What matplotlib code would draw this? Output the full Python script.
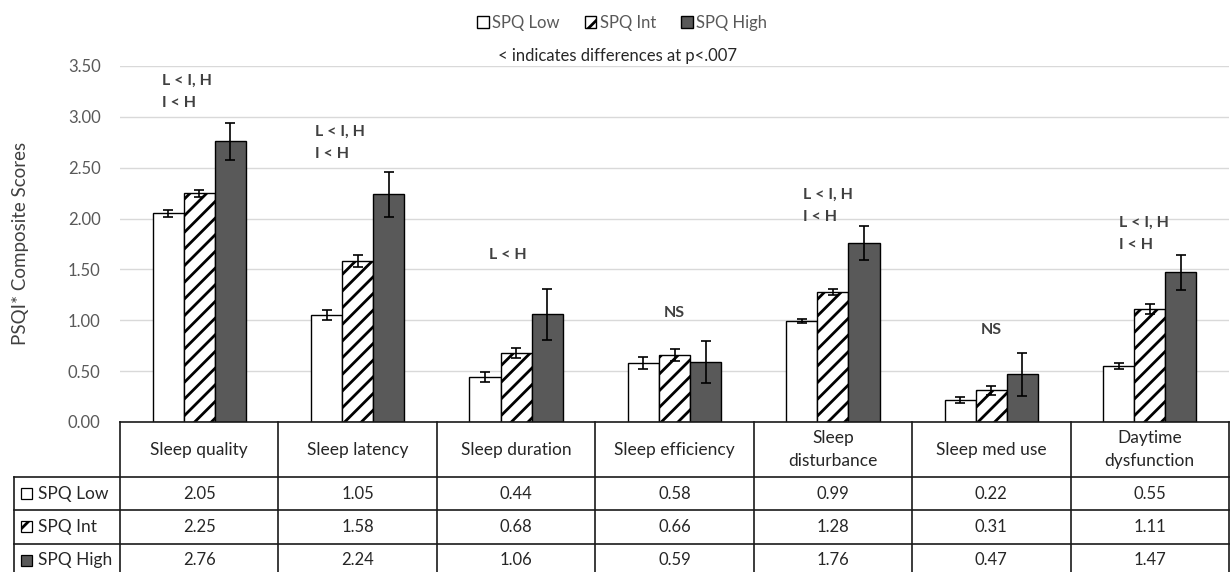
import numpy as np
import matplotlib
matplotlib.use('Agg')
import matplotlib.pyplot as plt
import matplotlib.patches as mpatches

plt.rcParams['font.family'] = ['Lato', 'DejaVu Sans']
plt.rcParams['hatch.linewidth'] = 2.0

# data
categories = ['Sleep quality', 'Sleep latency', 'Sleep duration', 'Sleep efficiency',
              'Sleep\ndisturbance', 'Sleep med use', 'Daytime\ndysfunction']
groups = ['SPQ Low', 'SPQ Int', 'SPQ High']
spq_low = [2.05, 1.05, 0.44, 0.58, 0.99, 0.22, 0.55]
spq_int = [2.25, 1.58, 0.68, 0.66, 1.28, 0.31, 1.11]
spq_high = [2.76, 2.24, 1.06, 0.59, 1.76, 0.47, 1.47]
err_low = [0.03, 0.05, 0.05, 0.06, 0.02, 0.03, 0.03]
err_int = [0.035, 0.06, 0.05, 0.06, 0.03, 0.045, 0.05]
err_high = [0.18, 0.22, 0.25, 0.21, 0.17, 0.21, 0.17]
annotations = ['L < I, H\nI < H', 'L < I, H\nI < H', 'L < H', 'NS',
               'L < I, H\nI < H', 'NS', 'L < I, H\nI < H']
y_ticks = [0.0, 0.5, 1.0, 1.5, 2.0, 2.5, 3.0, 3.5]

# layout (pixels of a 1231x572 canvas)
W, H = 1231, 572
ax_left, ax_right, ax_top, ax_bot = 120, 1229, 66, 422
tab_left, tab_bot = 14, 577
head_h, row_h = 55, 33.3
ann_dx = [-0.08, -0.11, -0.05, 0.0, -0.03, 0.0, -0.04]
ann_y = [3.25, 2.74, 1.64, 1.07, 2.12, 0.90, 1.85]

face = ['white', 'white', '#595959']
hatches = [None, '//', None]
txt_gray = '#595959'
dark = '#262626'

fig = plt.figure(figsize=(W / 100, H / 100), dpi=100)
ax = fig.add_axes([ax_left / W, (H - ax_bot) / H, (ax_right - ax_left) / W, (ax_bot - ax_top) / H])

x = np.arange(len(categories))
w = 0.196
series = [spq_low, spq_int, spq_high]
errs = [err_low, err_int, err_high]
for i in range(3):
    ax.bar(x + (i - 1) * w, series[i], w, color=face[i], edgecolor='black', linewidth=1.0,
           hatch=hatches[i], yerr=errs[i], capsize=3.5,
           error_kw=dict(ecolor='black', elinewidth=1.2, capthick=1.2), zorder=3)

ax.set_xlim(-0.5, len(categories) - 0.5)
ax.set_ylim(0, 3.5)
ax.set_yticks(y_ticks)
ax.set_yticklabels([f'{v:.2f}' for v in y_ticks], fontsize=12, color=txt_gray)
ax.tick_params(axis='y', length=0, pad=14)
ax.set_xticks([])
ax.grid(axis='y', color='#d9d9d9', linewidth=1.0, zorder=0)
for s in ax.spines.values():
    s.set_visible(False)

for i, t in enumerate(annotations):
    ax.text(x[i] + ann_dx[i], ann_y[i], t, ha='center', va='center', multialignment='left',
            fontsize=11.5, fontweight='bold', color='#404040', linespacing=1.75)

# table under the chart
cat_px = (ax_right - ax_left) / len(categories)
lab_w = (ax_left - tab_left) / cat_px
tax = fig.add_axes([tab_left / W, (H - tab_bot) / H, (ax_right - tab_left) / W, (tab_bot - ax_bot) / H])
tax.set_xlim(-0.5 - lab_w, len(categories) - 0.5)
tax.set_ylim(tab_bot, ax_bot)
tax.axis('off')

lc = dict(color='#1a1a1a', linewidth=1.2, clip_on=False)
x0, x1, xl = -0.5, len(categories) - 0.5, -0.5 - lab_w
tax.plot([x0, x1], [ax_bot, ax_bot], **lc)
rows_y = [ax_bot + head_h + k * row_h for k in range(4)]
for k, yy in enumerate(rows_y[:3]):
    tax.plot([xl, x1], [yy, yy], **lc)
tax.plot([xl, xl], [rows_y[0], tab_bot], **lc)
for k in range(len(categories) + 1):
    tax.plot([x0 + k, x0 + k], [ax_bot, tab_bot], **lc)

for i, c in enumerate(categories):
    tax.text(x[i], ax_bot + head_h / 2, c, ha='center', va='center', fontsize=12.5,
             color=dark, linespacing=1.55)
    for r in range(3):
        tax.text(x[i], rows_y[r] + row_h / 2, f'{series[r][i]:.2f}', ha='center', va='center',
                 fontsize=12, color=dark)

key_w = 11 / cat_px
for r in range(3):
    yc = rows_y[r] + row_h / 2
    tax.add_patch(mpatches.Rectangle((xl + 7.5 / cat_px, yc - 5.5), key_w, 11,
                                     facecolor=face[r], edgecolor='black', linewidth=0.9,
                                     hatch=hatches[r], clip_on=False))
    tax.text(xl + 24 / cat_px, yc, groups[r], ha='left', va='center', fontsize=12.5, color=dark)

# legend and notes
handles = [mpatches.Patch(facecolor=face[i], edgecolor='black', hatch=hatches[i], label=groups[i])
           for i in range(3)]
fig.legend(handles=handles, loc='center', bbox_to_anchor=(622 / W, 1 - 23 / H), ncol=3,
           frameon=False, fontsize=12, labelcolor=txt_gray, handlelength=0.7,
           handleheight=0.7, handletextpad=0.2, columnspacing=1.5)
fig.text(618 / W, 1 - 56 / H, '< indicates differences at p<.007', ha='center', va='center',
         fontsize=12, color=dark)
fig.text(21 / W, 1 - 243 / H, 'PSQI* Composite Scores', rotation=90, ha='center', va='center',
         fontsize=13.5, color='#404040')

fig.savefig('out.png', dpi=100)
